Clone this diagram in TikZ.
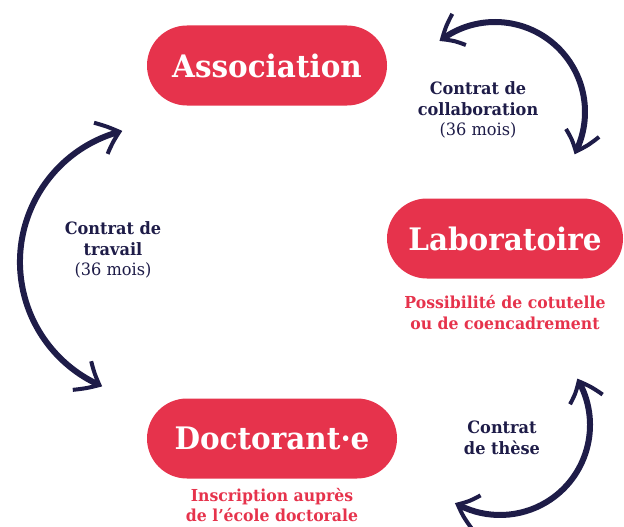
\documentclass[tikz,border=0pt]{standalone}
\usepackage{fontspec}
\setmainfont{DejaVu Serif}[FakeStretch=0.95]
\usetikzlibrary{arrows.meta,bending,calc}
\definecolor{brandred}{HTML}{E6334C}
\definecolor{navy}{HTML}{1E1C48}
\begin{document}
\begin{tikzpicture}[x=1pt,y=-1pt,
  pill/.style={fill=brandred, text=white, inner sep=0pt,
    font=\bfseries\fontsize{31}{31}\selectfont,
    rounded corners=40pt, minimum height=80pt},
  note/.style={text=brandred, align=center, inner sep=0pt,
    font=\bfseries\fontsize{16.5}{21.5}\selectfont},
  contract/.style={text=navy, align=center, inner sep=0pt,
    font=\fontsize{17}{20.5}\selectfont},
  barb/.tip={Straight Barb[length=20pt,width=34pt,line width=4pt,bend]},
  link/.style={draw=navy, line width=6pt, barb-barb}
]
\useasboundingbox (0,0) rectangle (624,527);

% the three parties
\node[pill, minimum width=240pt] (assoc) at (267,65.5) {Association};
\node[pill, minimum width=236pt] (labo)  at (505,238.5) {Laboratoire};
\node[pill, minimum width=250pt] (doct)  at (272,438.5) {Doctorant·e};

% remarks under the pills
\node[note, anchor=north] (labonote) at (505,295) {Possibilité de cotutelle\\ou de coencadrement};
\node[note, anchor=north, font=\bfseries\fontsize{16.5}{20}\selectfont] (doctnote) at (272,488.5) {Inscription auprès\\de l’école doctorale};

% contract labels
\node[contract] (collab) at (478,110) {\textbf{Contrat de}\\\textbf{collaboration}\\(36 mois)};
\node[contract] (travail) at (113,250) {\textbf{Contrat de}\\\textbf{travail}\\(36 mois)};
\node[contract] (these) at (502,438) {\textbf{Contrat}\\\textbf{de thèse}};

% arc centres and starting points of the double arrows
\coordinate (ctop) at (495,112);
\coordinate (cleft) at (155,262);
\coordinate (cbot) at (500,425);
\coordinate (topstart) at ($(ctop)+(-128:90)$);
\coordinate (leftstart) at ($(cleft)+(-104:135)$);
\coordinate (botstart) at ($(cbot)+(-31:90)$);

% contracts between the parties
\draw[link] (topstart) arc[start angle=-128, end angle=28, radius=90];
\draw[link] (leftstart) arc[start angle=-104, end angle=-247, radius=135];
\draw[link] (botstart) arc[start angle=-31, end angle=120, radius=90];
\end{tikzpicture}
\end{document}
